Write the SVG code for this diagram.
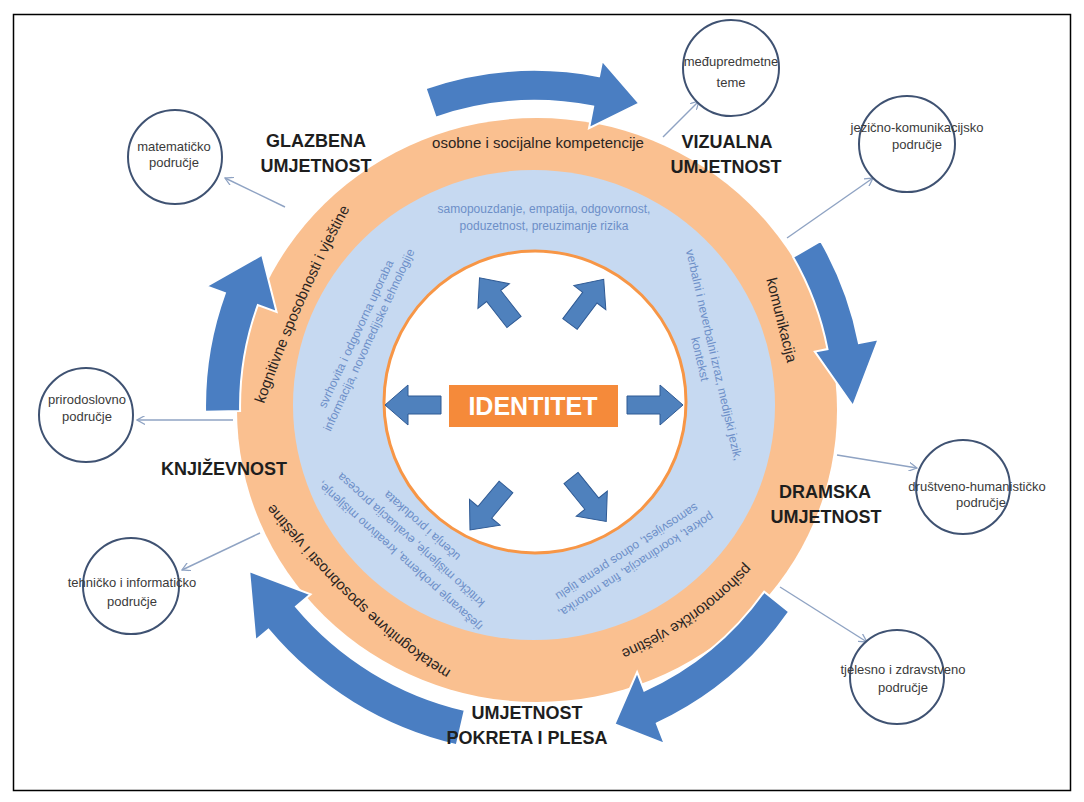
<svg xmlns="http://www.w3.org/2000/svg" width="1084" height="802" viewBox="0 0 1084 802">
<style>
.ring{font-family:"Liberation Sans",Arial,sans-serif;font-size:15px;fill:#2b2522}
.inner{font-family:"Liberation Sans",Arial,sans-serif;font-size:12px;fill:#6d8fc8}
.head{font-family:"Liberation Sans",Arial,sans-serif;font-size:18px;font-weight:bold;fill:#1e1e1e;text-anchor:middle}
.sat{font-family:"Liberation Sans",Arial,sans-serif;font-size:13px;fill:#3a3a3a;text-anchor:middle}
.satc{fill:#ffffff;stroke:#3f5272;stroke-width:2}
.big{fill:#4a7ec2;stroke:#ffffff;stroke-width:2}
.small{fill:#4f81bd;stroke:#2f5a94;stroke-width:1}
.conn{stroke:#8fa3c3;stroke-width:1.4;fill:none;marker-end:url(#chev)}
</style>
<defs>
<marker id="chev" viewBox="0 0 10 10" refX="9" refY="5" markerWidth="9" markerHeight="9" markerUnits="userSpaceOnUse" orient="auto">
<path d="M0,0 L9,5 L0,10" fill="none" stroke="#8fa3c3" stroke-width="1.4"/>
</marker>
<path id="smallArrow" d="M0,-9 L33,-9 L33,-20 L56,0 L33,20 L33,9 L0,9 Z"/>
<path id="pKog" d="M258,403 Q294,301 345,205"/>
<path id="pMeta" d="M450,677 Q367,629 267,505"/>
<path id="pPsi" d="M752,565 Q698,625 620,657"/>
</defs>
<rect x="0" y="0" width="1084" height="802" fill="#ffffff"/>
<rect x="13.5" y="14.5" width="1057" height="776" fill="none" stroke="#000000" stroke-width="1.5"/>

<g id="ring">
<ellipse cx="537" cy="410" rx="300" ry="292" fill="#fac090"/>
<ellipse cx="534" cy="405" rx="241" ry="235" fill="#c6d9f1"/>
<circle cx="535" cy="402" r="151" fill="#ffffff" stroke="#f79646" stroke-width="3"/>
</g>

<g id="cycle-arrows">
<path class="big" d="M425.6,88.3 A336,336 0 0 1 599.1,76.2 L602.2,60.5 L639.2,103.4 L589.0,128.2 L593.2,106.6 A305,305 0 0 0 435.7,117.6 Z"/>
<path class="big" d="M820.8,241 A330,330 0 0 1 858.9,343.0 L878.6,339.2 L853,406 L814.8,351.6 L827.5,349.1 A298,298 0 0 0 793.1,257 Z"/>
<path class="big" d="M789.1,611.8 A335,335 0 0 1 656.8,723.4 L664.7,744 L614.4,724.3 L637.1,672.1 L644.3,690.7 A300,300 0 0 0 764.2,591.6 Z"/>
<path class="big" d="M456.7,745.1 A348,348 0 0 1 268.4,629.7 L255.4,640.6 L249.2,571 L310.6,594.3 L296,606.6 A312,312 0 0 0 464.8,710 Z"/>
<path class="big" d="M205.1,411.8 A330,330 0 0 1 224.9,293.1 L206.1,286.3 L262.1,254.7 L276.6,311.9 L257.8,305.1 A295,295 0 0 0 240.1,411.1 Z"/>
</g>

<g id="ring-labels">
<text class="ring" x="538" y="148" text-anchor="middle">osobne i socijalne kompetencije</text>
<text class="ring" transform="translate(782,320) rotate(76)" text-anchor="middle" dominant-baseline="central">komunikacija</text>
<text class="ring" dominant-baseline="central"><textPath href="#pKog" startOffset="50%" text-anchor="middle">kognitivne sposobnosti i vještine</textPath></text>
<text class="ring" dominant-baseline="central"><textPath href="#pMeta" startOffset="50%" text-anchor="middle">metakognitivne sposobnosti i vještine</textPath></text>
<text class="ring" dominant-baseline="central"><textPath href="#pPsi" startOffset="50%" text-anchor="middle">psihomotoričke vještine</textPath></text>
</g>

<g id="inner-labels">
<text class="inner" x="544" y="213" text-anchor="middle">samopouzdanje, empatija, odgovornost,</text>
<text class="inner" x="544" y="230" text-anchor="middle">poduzetnost, preuzimanje rizika</text>
<text class="inner" transform="translate(356,334) rotate(-65)" text-anchor="middle" dominant-baseline="central">svrhovita i odgovorna uporaba</text>
<text class="inner" transform="translate(369,340) rotate(-65)" text-anchor="middle" dominant-baseline="central">informacija, novomedijske tehnologije</text>
<text class="inner" transform="translate(714,355) rotate(77)" text-anchor="middle" dominant-baseline="central">verbalni i neverbalni izraz, medijski jezik,</text>
<text class="inner" transform="translate(700,359) rotate(77)" text-anchor="middle" dominant-baseline="central">kontekst</text>
<text class="inner" transform="translate(636,565) rotate(147)" text-anchor="middle" dominant-baseline="central">pokret, koordinacija, fina motorika,</text>
<text class="inner" transform="translate(627,552) rotate(147)" text-anchor="middle" dominant-baseline="central">samosvijest, odnos prema tijelu</text>
<text class="inner" transform="translate(400,556) rotate(222)" text-anchor="middle" dominant-baseline="central">rješavanje problema, kreativno mišljenje,</text>
<text class="inner" transform="translate(411,540) rotate(222)" text-anchor="middle" dominant-baseline="central">kritičko mišljenje, evaluacija procesa</text>
<text class="inner" transform="translate(422,526) rotate(222)" text-anchor="middle" dominant-baseline="central">učenja i produkata</text>
</g>

<g id="inner-arrows">
<use href="#smallArrow" class="small" transform="translate(441,405) rotate(180)"/>
<use href="#smallArrow" class="small" transform="translate(627,405)"/>
<use href="#smallArrow" class="small" transform="translate(514,322) rotate(-128)"/>
<use href="#smallArrow" class="small" transform="translate(570,324) rotate(-53)"/>
<use href="#smallArrow" class="small" transform="translate(506,487) rotate(130)"/>
<use href="#smallArrow" class="small" transform="translate(571,478) rotate(51)"/>
</g>

<g id="identitet">
<rect x="449" y="385" width="169" height="42" fill="#f58a3a"/>
<text x="533" y="415" text-anchor="middle" font-family="Liberation Sans, Arial, sans-serif" font-size="25" font-weight="bold" fill="#ffffff">IDENTITET</text>
</g>

<g id="headings">
<text class="head" x="316" y="147">GLAZBENA</text>
<text class="head" x="316" y="172">UMJETNOST</text>
<text class="head" x="727" y="148">VIZUALNA</text>
<text class="head" x="726" y="173">UMJETNOST</text>
<text class="head" x="224" y="475">KNJIŽEVNOST</text>
<text class="head" x="825" y="498">DRAMSKA</text>
<text class="head" x="826" y="523">UMJETNOST</text>
<text class="head" x="527" y="719">UMJETNOST</text>
<text class="head" x="527" y="744">POKRETA I PLESA</text>
</g>

<g id="connectors">
<line class="conn" x1="663" y1="137" x2="699" y2="101"/>
<line class="conn" x1="787" y1="238" x2="873" y2="178"/>
<line class="conn" x1="285" y1="207" x2="225" y2="178"/>
<line class="conn" x1="233" y1="420" x2="137" y2="420"/>
<line class="conn" x1="260" y1="533" x2="182" y2="570"/>
<line class="conn" x1="837" y1="455" x2="917" y2="468"/>
<line class="conn" x1="780" y1="587" x2="867" y2="642"/>
</g>

<g id="node-medjupredmetne">
<circle class="satc" cx="731" cy="68" r="48"/>
<text class="sat" x="731" y="66">međupredmetne</text>
<text class="sat" x="731" y="87">teme</text>
</g>
<g id="node-jezicno">
<circle class="satc" cx="907" cy="144" r="48"/>
<text class="sat" x="917" y="132">jezično-komunikacijsko</text>
<text class="sat" x="917" y="149">područje</text>
</g>
<g id="node-matematicko">
<circle class="satc" cx="175" cy="157" r="47"/>
<text class="sat" x="174" y="151">matematičko</text>
<text class="sat" x="174" y="167">područje</text>
</g>
<g id="node-prirodoslovno">
<circle class="satc" cx="86" cy="415" r="47"/>
<text class="sat" x="87" y="404">prirodoslovno</text>
<text class="sat" x="87" y="421">područje</text>
</g>
<g id="node-tehnicko">
<circle class="satc" cx="131" cy="586" r="48"/>
<text class="sat" x="132" y="587">tehničko i informatičko</text>
<text class="sat" x="132" y="606">područje</text>
</g>
<g id="node-drustveno">
<circle class="satc" cx="963" cy="487" r="47"/>
<text class="sat" x="977" y="491">društveno-humanističko</text>
<text class="sat" x="981" y="507">područje</text>
</g>
<g id="node-tjelesno">
<circle class="satc" cx="897" cy="677" r="47"/>
<text class="sat" x="903" y="674">tjelesno i zdravstveno</text>
<text class="sat" x="903" y="692">područje</text>
</g>
</svg>
